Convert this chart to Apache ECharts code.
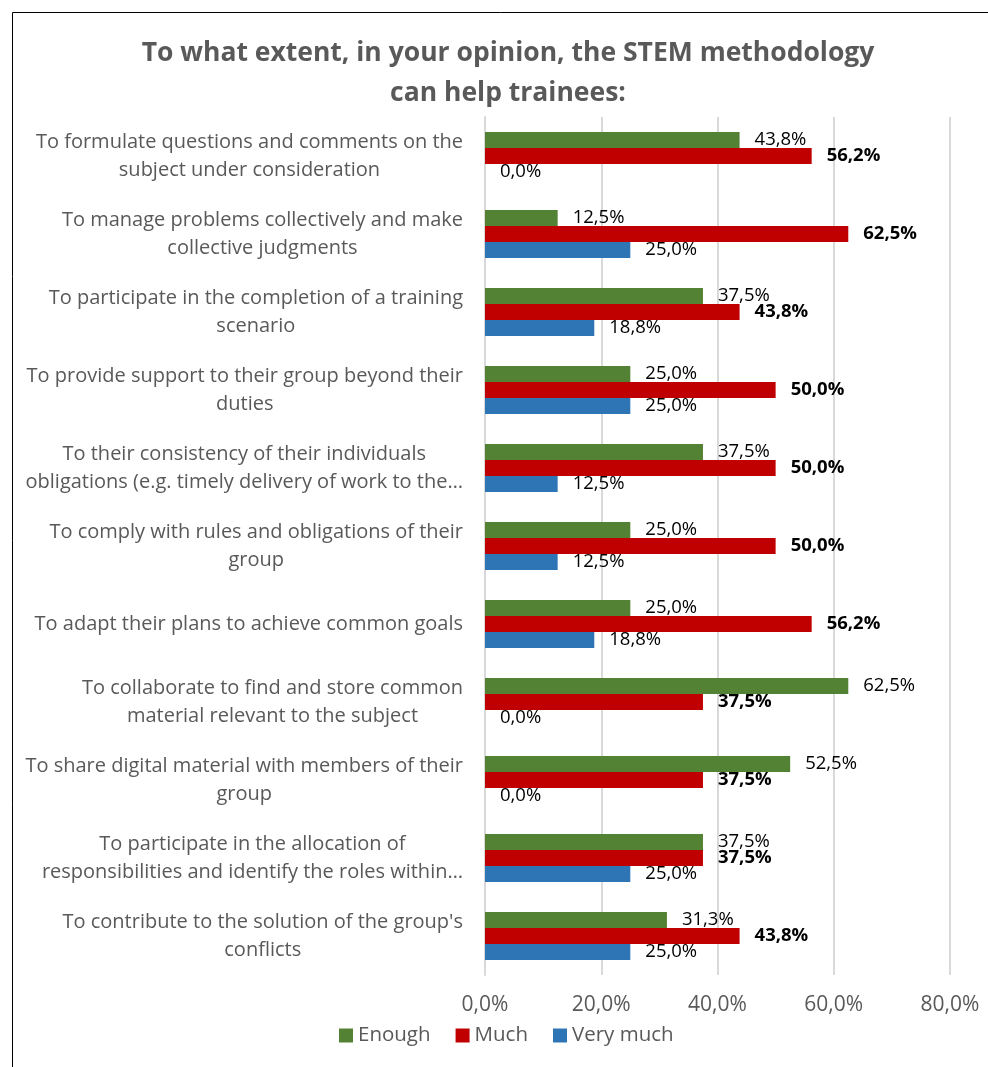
<!DOCTYPE html>
<html>
<head>
<meta charset="utf-8">
<script src="https://cdn.jsdelivr.net/npm/echarts@6/dist/echarts.min.js"></script>
<style>
html,body{margin:0;padding:0;background:#fff;}
#chart{width:988px;height:1067px;}
</style>
</head>
<body>
<div id="chart"></div>
<script>
const categories = [
  "To formulate questions and comments on the\nsubject under consideration",
  "To manage problems collectively and make\ncollective judgments",
  "To participate in the completion of a training\nscenario",
  "To provide support to their group beyond their\nduties",
  "To their consistency of their individuals\nobligations (e.g. timely delivery of work to the…",
  "To comply with rules and obligations of their\ngroup",
  "To adapt their plans to achieve common goals",
  "To collaborate to find and store common\nmaterial relevant to the subject",
  "To share digital material with members of their\ngroup",
  "To participate in the allocation of\nresponsibilities and identify the roles within…",
  "To contribute to the solution of the group's\nconflicts"
];
const enough   = [43.8, 12.5, 37.5, 25.0, 37.5, 25.0, 25.0, 62.5, 52.5, 37.5, 31.3];
const much     = [56.2, 62.5, 43.8, 50.0, 50.0, 50.0, 56.2, 37.5, 37.5, 37.5, 43.8];
const veryMuch = [0.0, 25.0, 18.8, 25.0, 12.5, 12.5, 18.8, 0.0, 0.0, 25.0, 25.0];
const xTicks = [0, 20, 40, 60, 80];

const fmt = v => v.toFixed(1).replace('.', ',') + '%';
const FONT = '"Open Sans", sans-serif';
const chart = echarts.init(document.getElementById('chart'));

function mkSeries(name, data, color, bold) {
  return {
    name: name, type: 'bar', data: data,
    barWidth: 16, barGap: '0%',
    itemStyle: { color: color },
    label: {
      show: true, position: 'right', distance: 15,
      formatter: p => fmt(p.value),
      fontFamily: FONT, fontSize: 18.5, color: '#000',
      fontWeight: bold ? 'bold' : 'normal'
    }
  };
}

chart.setOption({
  animation: false,
  textStyle: { fontFamily: FONT },
  graphic: [{
    type: 'rect', left: 10, top: 10,
    shape: { width: 1200, height: 1200 },
    style: { fill: 'none', stroke: '#000', lineWidth: 1 }
  }],
  title: {
    text: 'To what extent, in your opinion, the STEM methodology\ncan help trainees:',
    left: 503, textAlign: 'center', top: 28,
    textStyle: { fontFamily: FONT, fontSize: 26.5, fontWeight: 'bold', color: '#595959', lineHeight: 40 }
  },
  legend: {
    bottom: 16, left: 334,
    itemWidth: 14, itemHeight: 14, itemGap: 25, icon: 'rect',
    textStyle: { fontFamily: FONT, fontSize: 20.5, color: '#595959' },
    data: ['Enough', 'Much', 'Very much']
  },
  grid: { left: 485, right: 38, top: 117, bottom: 92, containLabel: false },
  xAxis: {
    type: 'value', min: 0, max: 80, interval: 20,
    axisLabel: { formatter: v => fmt(v), fontFamily: FONT, fontSize: 21, color: '#595959', margin: 20 },
    splitLine: { lineStyle: { color: '#d9d9d9', width: 2 } },
    axisLine: { show: false }, axisTick: { show: false }
  },
  yAxis: {
    type: 'category', data: categories, inverse: true,
    axisLine: { show: true, lineStyle: { color: '#d9d9d9', width: 2 } },
    axisTick: { show: false },
    axisLabel: {
      fontFamily: FONT, fontSize: 20, color: '#595959', margin: 22, lineHeight: 28, align: 'right',
      formatter: v => v.split('\n').map(s => '{c|' + s + '}').join('\n'),
      rich: { c: { align: 'center', fontFamily: FONT, fontSize: 20, color: '#595959', lineHeight: 28 } }
    }
  },
  series: [
    mkSeries('Enough', enough, '#548235', false),
    mkSeries('Much', much, '#C00000', true),
    mkSeries('Very much', veryMuch, '#2E75B6', false)
  ]
});
</script>
</body>
</html>
